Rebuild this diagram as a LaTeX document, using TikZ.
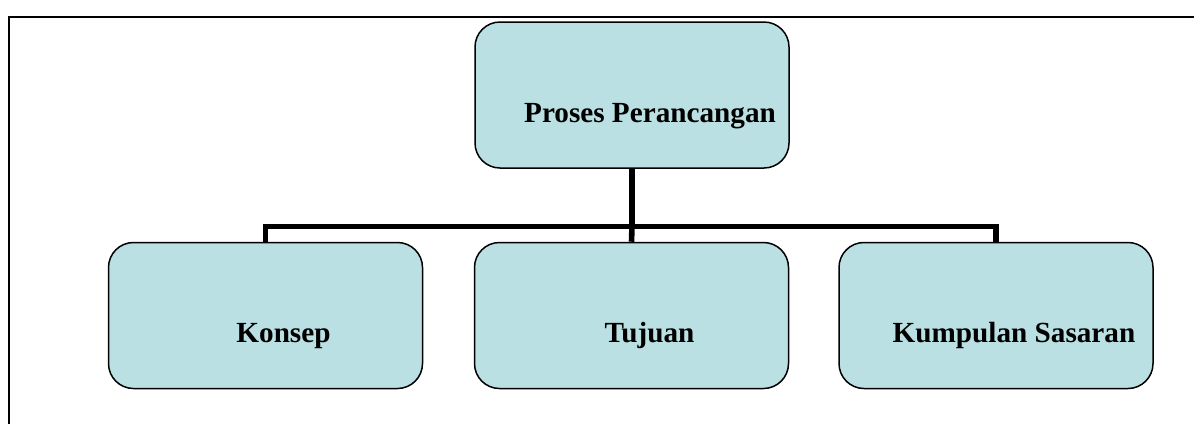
\documentclass[tikz,border=0pt]{standalone}
\usepackage{fontspec}
\setmainfont{Liberation Serif}
\definecolor{boxfill}{HTML}{BBE0E3}
\tikzset{
  box/.style={draw, line width=0.75pt, fill=boxfill, rounded corners=12.5pt,
              minimum width=157pt, minimum height=73pt, inner sep=0pt},
  lbl/.style={anchor=base, xshift=9pt, yshift=-13.5pt, inner sep=0pt,
              font=\fontsize{14.6}{17}\selectfont\bfseries},
  link/.style={line width=2.8pt},
}
\begin{document}
\begin{tikzpicture}[x=0.5pt, y=-0.5pt]
\useasboundingbox (0,0) rectangle (1194,424);
% frame
\draw [line width=1pt] (9,424) -- (9,16.5) -- (1194,16.5);
% boxes
\node [box] (pp) at (632, 95) {};
\node [box] (kon) at (265.5, 315.5) {};
\node [box] (tuj) at (631.5, 315.5) {};
\node [box] (kum) at (996, 315.5) {};
\node [lbl] (ppt) at (pp.center) {Proses Perancangan};
\node [lbl] (kont) at (kon.center) {Konsep};
\node [lbl] (tujt) at (tuj.center) {Tujuan};
\node [lbl] (kumt) at (kum.center) {Kumpulan Sasaran};
% connectors
\coordinate (j) at (632, 226.5);
\draw [link] (pp.south) -- (j) -- (tuj.north);
\draw [link] (kon.north) |- (j) -| (kum.north);
\end{tikzpicture}
\end{document}
